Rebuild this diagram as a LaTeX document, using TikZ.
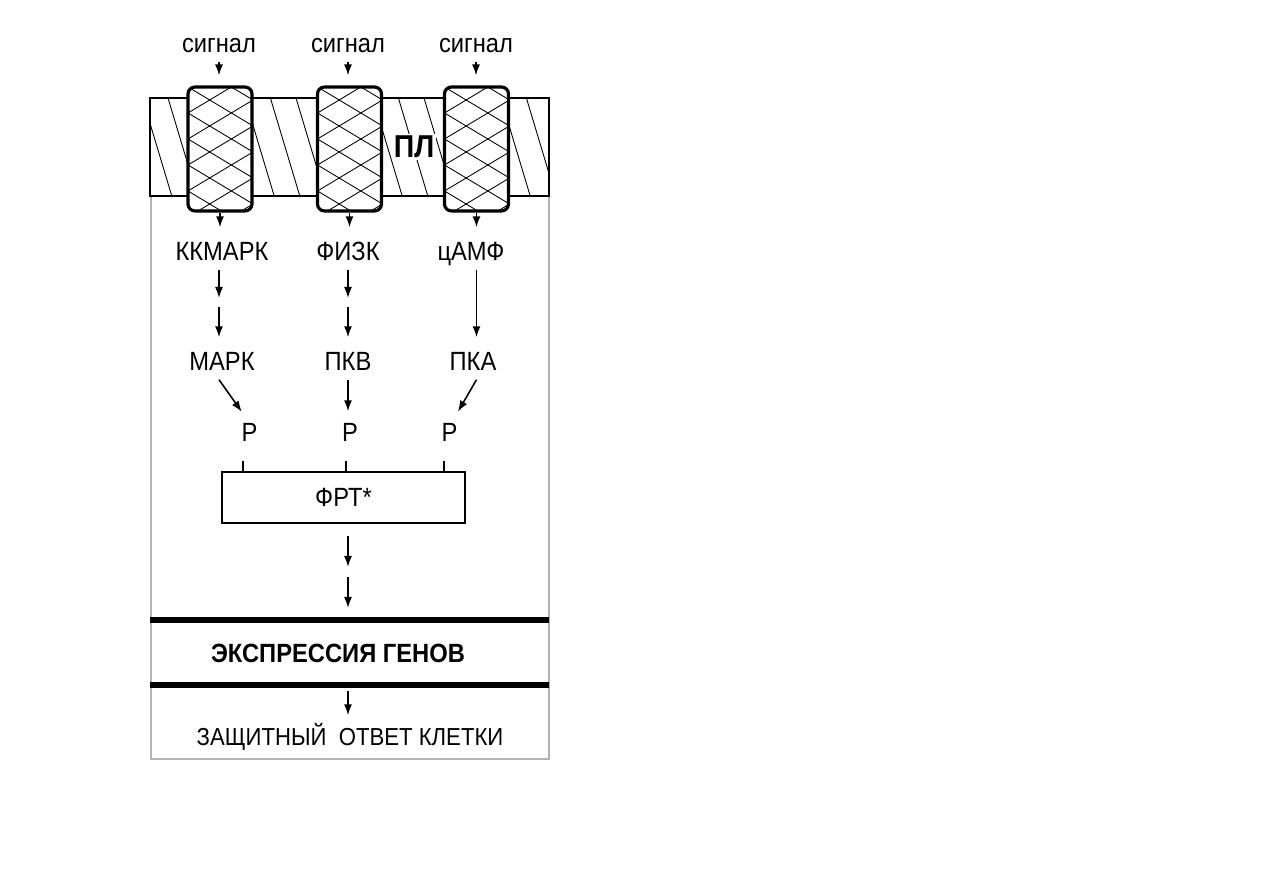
\documentclass[tikz,border=0pt]{standalone}
\usepackage{fontspec}
\setmainfont{Liberation Sans}[FakeStretch=0.9]
\usetikzlibrary{arrows.meta,positioning}
\newcommand\ColA{2.19}
\newcommand\ColB{3.48}
\newcommand\ColC{4.76}
\tikzset{
  lbl/.style={
    font=\fontsize{7.5}{9}\selectfont,
    anchor=base,
    inner sep=0.08cm,
    text height=0.19cm,
    text depth=0cm
  },
  arr/.style={
    -{Latex[length=1.1mm,width=0.8mm]},
    line width=0.45pt
  },
  hatch/.style={
    line width=0.25pt
  },
  channel/.style={
    draw,
    line width=0.9pt,
    fill=white,
    rounded corners=0.07cm,
    minimum width=0.64cm,
    minimum height=1.24cm,
    inner sep=0pt,
    path picture={
      \foreach \k in {-2,...,7}{
        \draw[hatch] ([yshift=-\k*0.26cm]path picture bounding box.north west) --++ (0.7,-0.42);
        \draw[hatch] ([yshift=-\k*0.26cm]path picture bounding box.north west) --++ (0.7,0.42);
      }
    }
  },
  frtbox/.style={
    draw,
    line width=0.65pt,
    anchor=center,
    minimum width=2.43cm,
    minimum height=0.51cm
  },
  thickband/.style={
    line width=1.7pt
  },
  cellframe/.style={
    line width=0.3pt,
    gray!60
  },
  tick/.style={
    line width=0.45pt
  }
}

\begin{document}
\begin{tikzpicture}
    \useasboundingbox (0,0) rectangle (12.63,-8.93);

    % cell outline below the membrane
    \draw[cellframe] (1.51,-1.96) -- (1.51,-7.59) -- (5.49,-7.59) -- (5.49,-1.96);

    % plasma membrane
    \begin{scope}
      \clip (1.50,-0.98) rectangle (5.49,-1.96);
      \foreach \k in {-2,...,15}
        \draw[hatch] (1.68+\k*0.256,-0.98) --++ (0.294,-0.98);
    \end{scope}
    \draw[line width=0.75pt] (1.50,-0.98) rectangle (5.49,-1.96);
    \node[lbl, font=\fontsize{9}{10}\selectfont\bfseries, fill=white, inner sep=0.02cm, text height=, text depth=] (pl) at (4.14,-1.58) {ПЛ};

    % receptors
    \node[channel] (ch1) at (2.20,-1.49) {};
    \node[channel] (ch2) at (3.495,-1.49) {};
    \node[channel] (ch3) at (4.765,-1.49) {};

    \node[lbl] (sig1) at (\ColA,-0.53) {сигнал};
    \node[lbl] (sig2) at (\ColB,-0.53) {сигнал};
    \node[lbl] (sig3) at (\ColC,-0.53) {сигнал};

    \draw[arr, shorten >=0.1cm] (sig1.south) -- (sig1.south |- ch1.north);
    \draw[arr, shorten >=0.1cm] (sig2.south) -- (sig2.south |- ch2.north);
    \draw[arr, shorten >=0.1cm] (sig3.south) -- (sig3.south |- ch3.north);

    % second messengers
    \node[lbl] (kkmark) at (\ColA+0.03,-2.61) {ККМАРК};
    \node[lbl] (fizk) at (\ColB,-2.61) {ФИЗК};
    \node[lbl] (camp) at (\ColC-0.05,-2.61) {цАМФ};

    \draw[arr, shorten >=0.06cm] (ch1.south) -- (ch1.south |- kkmark.north);
    \draw[arr, shorten >=0.06cm] (ch2.south) -- (ch2.south |- fizk.north);
    \draw[arr, shorten >=0.06cm] (ch3.south) -- (ch3.south |- camp.north);

    % kinases
    \node[lbl] (mark) at (\ColA+0.03,-3.71) {МАРК};
    \node[lbl] (pkv) at (\ColB,-3.71) {ПКВ};
    \node[lbl] (pka) at (\ColC-0.03,-3.71) {ПКА};

    \coordinate (m1) at (\ColA,-2.98);
    \coordinate (n1) at (\ColA,-3.07);
    \coordinate (m2) at (\ColB,-2.98);
    \coordinate (n2) at (\ColB,-3.07);

    \draw[arr] (m1 |- kkmark.south) -- (m1);
    \draw[arr, shorten >=0.06cm] (n1) -- (n1 |- mark.north);
    \draw[arr] (m2 |- fizk.south) -- (m2);
    \draw[arr, shorten >=0.06cm] (n2) -- (n2 |- pkv.north);
    \draw[arr, shorten >=0.06cm] (ch3.south |- camp.south) -- (ch3.south |- pka.north);

    % phosphorylation sites
    \node[lbl] (p1) at (2.495,-4.42) {Р};
    \node[lbl] (p2) at (3.50,-4.42) {Р};
    \node[lbl] (p3) at (4.495,-4.42) {Р};

    \draw[arr, shorten >=0.03cm] (m1 |- mark.south) -- ([xshift=-0.06cm]p1.north);
    \draw[arr, shorten >=0.03cm] (m2 |- pkv.south) -- (m2 |- p2.north);
    \draw[arr, shorten >=0.03cm] (ch3.south |- pka.south) -- ([xshift=0.07cm]p3.north);

    \node[lbl, frtbox] (frt) at (3.435,-4.975) {ФРТ*};

    \draw[tick] ([xshift=-0.065cm,yshift=-0.1cm]p1.south) -- ([xshift=-0.065cm]p1.south |- frt.north);
    \draw[tick] ([xshift=-0.04cm,yshift=-0.1cm]p2.south) -- ([xshift=-0.04cm]p2.south |- frt.north);
    \draw[tick] ([xshift=-0.055cm,yshift=-0.1cm]p3.south) -- ([xshift=-0.055cm]p3.south |- frt.north);

    % towards the nucleus
    \coordinate (m4) at (\ColB,-5.67);
    \coordinate (n4) at (\ColB,-5.77);
    \coordinate (m5) at (\ColB,-6.08);
    \draw[arr] ([yshift=-0.12cm]m4 |- frt.south) -- (m4);
    \draw[arr] (n4) -- (m5);

    \draw[thickband] (1.50,-6.20) -- (5.49,-6.20);
    \draw[thickband] (1.50,-6.85) -- (5.49,-6.85);
    \node[lbl, font=\fontsize{7.5}{9}\selectfont\bfseries] (expr) at (3.38,-6.63) {ЭКСПРЕССИЯ ГЕНОВ};

    \node[lbl, font=\fontsize{7}{8}\selectfont] (resp) at (3.50,-7.46) {ЗАЩИТНЫЙ~~ОТВЕТ КЛЕТКИ};
    \coordinate (n6) at (\ColB,-6.91);
    \draw[arr, shorten >=0.03cm] (n6) -- (n6 |- resp.north);
\end{tikzpicture}
\end{document}
